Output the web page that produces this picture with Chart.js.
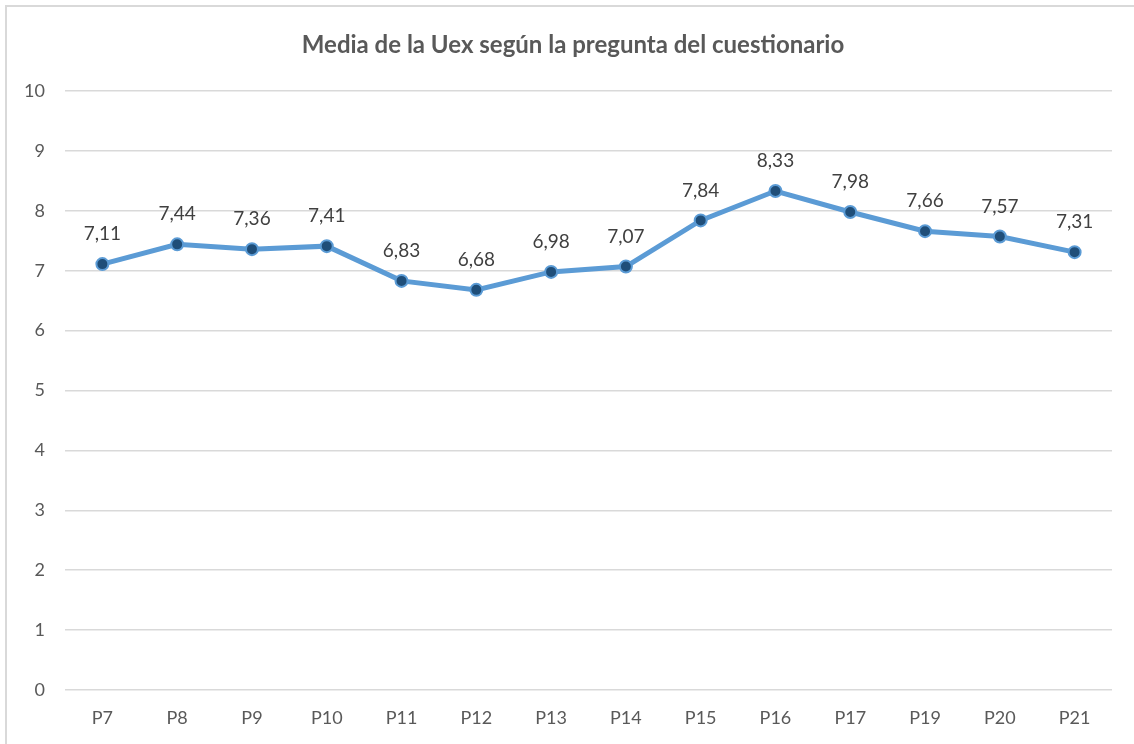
<!DOCTYPE html>
<html>
<head>
<meta charset="utf-8">
<script src="https://cdn.jsdelivr.net/npm/chart.js@4/dist/chart.umd.min.js"></script>
<style>
  html, body { margin: 0; padding: 0; background: #fff; }
  #wrap { width: 1134px; height: 744px; position: relative; }
</style>
</head>
<body>
<div id="wrap"><canvas id="chart"></canvas></div>
<script>
// chart data
const categories = ["P7", "P8", "P9", "P10", "P11", "P12", "P13", "P14", "P15", "P16", "P17", "P19", "P20", "P21"];
const means = [7.11, 7.44, 7.36, 7.41, 6.83, 6.68, 6.98, 7.07, 7.84, 8.33, 7.98, 7.66, 7.57, 7.31];
const yTicks = [0, 1, 2, 3, 4, 5, 6, 7, 8, 9, 10];
const chartTitle = "Media de la Uex según la pregunta del cuestionario";

const FONT = "Lato, 'Open Sans', 'Liberation Sans', sans-serif";
const TEXT = "#595959";

// frame + title, drawn by hand so the title sits where the office export put it
const framePlugin = {
    id: "frame",
    beforeDraw(chart) {
        const ctx = chart.ctx;
        ctx.save();
        ctx.fillStyle = "#fff";
        ctx.fillRect(0, 0, chart.width, chart.height);
        ctx.strokeStyle = "#d9d9d9";
        ctx.lineWidth = 2;
        ctx.strokeRect(6, 6, chart.width + 10, chart.height + 10);
        ctx.font = "bold 24px " + FONT;
        ctx.fillStyle = TEXT;
        ctx.textAlign = "center";
        ctx.textBaseline = "middle";
        ctx.fillText(chartTitle, 573, 45);
        ctx.restore();
    }
};

// values above each point, comma decimal
const valueLabels = {
    id: "valueLabels",
    afterDatasetsDraw(chart) {
        const ctx = chart.ctx;
        const meta = chart.getDatasetMeta(0);
        ctx.save();
        ctx.font = "19px " + FONT;
        ctx.fillStyle = "#404040";
        ctx.textAlign = "center";
        ctx.textBaseline = "middle";
        meta.data.forEach((pt, i) => {
            const txt = means[i].toFixed(2).replace(".", ",");
            ctx.fillText(txt, pt.x, pt.y - 30);
        });
        ctx.restore();
    }
};

new Chart(document.getElementById("chart"), {
    type: "line",
    data: {
        labels: categories,
        datasets: [{
            data: means,
            borderColor: "#5b9bd5",
            borderWidth: 5,
            pointRadius: 6,
            pointBorderWidth: 2,
            pointBackgroundColor: "#1f4e79",
            pointBorderColor: "#5b9bd5",
            tension: 0
        }]
    },
    options: {
        responsive: true,
        maintainAspectRatio: false,
        animation: false,
        layout: { padding: { left: 0, right: 22, top: 91, bottom: 0 } },
        plugins: {
            legend: { display: false },
            tooltip: { enabled: false },
            title: { display: false }
        },
        scales: {
            x: {
                offset: true,
                grid: { display: false, drawTicks: false },
                border: { display: false },
                ticks: { color: TEXT, font: { family: FONT, size: 18 }, padding: 17 },
                afterFit(scale) { scale.height = 54; }
            },
            y: {
                min: 0,
                max: 10,
                afterBuildTicks(scale) { scale.ticks = yTicks.map(v => ({ value: v })); },
                grid: { color: "#d9d9d9", lineWidth: 1.5, drawTicks: false },
                border: { display: false },
                ticks: { color: TEXT, font: { family: FONT, size: 18 }, padding: 20 },
                afterFit(scale) { scale.width = 65; }
            }
        }
    },
    plugins: [framePlugin, valueLabels]
});
</script>
</body>
</html>
